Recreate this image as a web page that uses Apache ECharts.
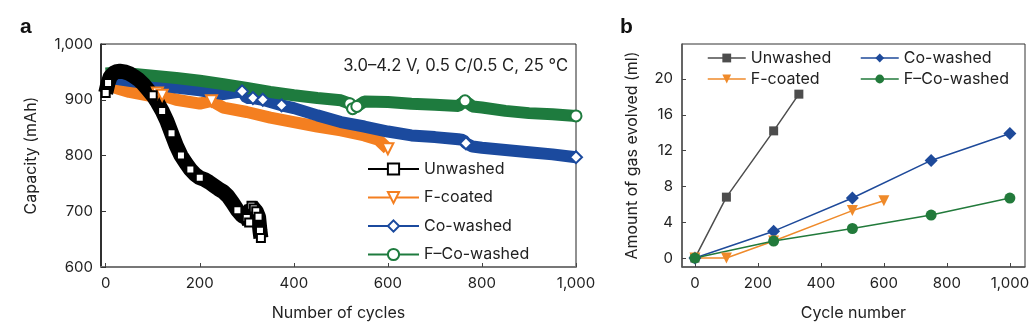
<!DOCTYPE html>
<html>
<head>
<meta charset="utf-8">
<script src="https://cdn.jsdelivr.net/npm/echarts/dist/echarts.min.js"></script>
<style>
html,body{margin:0;padding:0;background:#fff;}
#chart{width:1036px;height:335px;}
</style>
</head>
<body>
<div id="chart"></div>
<script>
// ---------- Panel a: capacity vs cycles ----------
const unwashedCycles = [0,5,10,20,30,40,50,60,70,80,90,100,110,120,130,140,150,160,170,180,190,200,210,220,230,240,250,260,270,280,290,300,305,310,315,320,325,328,330];
const unwashedCap    = [912,930,942,950,951,950,947,942,936,928,918,908,895,880,862,840,818,800,787,775,766,760,757,752,746,740,735,727,715,702,692,688,680,710,705,700,690,665,652];
const unwashedMarkerCycles = [0,5,100,120,140,160,180,200,280,300,305,310,315,320,325,328,330];

const fCoatedCycles = [0,10,25,50,75,100,110,120,150,200,225,250,300,350,400,450,500,550,580,600];
const fCoatedCap    = [932,928,920,914,910,906,912,908,900,893,898,886,878,868,860,852,845,836,828,812];
const fCoatedMarkerCycles = [110,120,225,600];

const coWashedCycles = [0,25,50,100,150,200,250,290,300,313,334,350,374,400,450,500,550,600,650,700,750,760,766,780,800,850,900,950,1000];
const coWashedCap    = [940,937,934,928,922,917,910,915,903,903,900,896,890,885,872,860,852,843,836,833,829,828,822,816,814,810,806,802,797];
const coWashedMarkerCycles = [290,313,334,374,766,1000];

const fCoWashedCycles = [0,25,50,100,150,200,250,300,350,400,450,500,519,525,534,550,600,650,700,750,764,780,800,850,900,950,1000];
const fCoWashedCap    = [947,949,947,943,939,934,928,921,914,908,903,899,893,884,888,897,896,893,891,889,898,888,886,880,876,874,871];
const fCoWashedMarkerCycles = [519,525,534,764,1000];

const xTicksA = [0,200,400,600,800,1000];

// ---------- Panel b: gas evolution ----------
const gasUnwashedCycles = [0,100,250,330];
const gasUnwashed       = [0,6.8,14.2,18.3];
const gasFCoatedCycles  = [0,100,250,500,600];
const gasFCoated        = [0,0,1.9,5.3,6.4];
const gasCoWashedCycles = [0,250,500,750,1000];
const gasCoWashed       = [0,3.0,6.7,10.9,13.9];
const gasFCoWashedCycles= [0,250,500,750,1000];
const gasFCoWashed      = [0,1.9,3.3,4.8,6.7];

const xTicksB = [0,200,400,600,800,1000];
const yTicksB = [0,4,8,12,16,20];

const seriesNames = ['Unwashed','F-coated','Co-washed','F\u2013Co-washed'];

// ---------- styling ----------
const FONT = 'Inter';
const TXT = '#222';
const C_A = {unw:'#000000', fc:'#F47F20', cw:'#1B4A9E', fcw:'#1E7B3E'};
const C_B = {unw:'#4d4d4d', fc:'#EF8A2A', cw:'#1E4A9A', fcw:'#227A3B'};

const pairs = (xs, ys) => xs.map((x, i) => [x, ys[i]]);
const fmt = v => Number(v).toLocaleString('en-US');
const markerSize = (cycles, size) => function (val) {
  return cycles.indexOf(val[0]) >= 0 ? size : 0;
};

const chart = echarts.init(document.getElementById('chart'), null, {renderer:'canvas'});

const option = {
  animation: false,
  backgroundColor: '#fff',
  textStyle: {fontFamily: FONT},
  grid: [
    {left:101, top:44, width:475, height:223, show:true, borderColor:'#222', borderWidth:1, backgroundColor:'transparent'},
    {left:682, top:44, width:343, height:223, show:true, borderColor:'#333', borderWidth:1, backgroundColor:'transparent'}
  ],
  xAxis: [
    {gridIndex:0, type:'value', min:-10, max:1000,
     name:'Number of cycles', nameLocation:'middle', nameGap:38,
     nameTextStyle:{fontSize:16, color:TXT, fontFamily:FONT},
     axisLine:{show:true, onZero:false, lineStyle:{color:'#777', width:2}},
     axisTick:{show:true, inside:true, length:4, customValues:xTicksA, lineStyle:{color:'#444'}},
     axisLabel:{customValues:xTicksA, formatter:fmt, fontSize:15, color:TXT, margin:9, fontFamily:FONT},
     splitLine:{show:false}},
    {gridIndex:1, type:'value', min:-41, max:1048,
     name:'Cycle number', nameLocation:'middle', nameGap:38,
     nameTextStyle:{fontSize:16, color:TXT, fontFamily:FONT},
     axisLine:{show:true, onZero:false, lineStyle:{color:'#555', width:1.5}},
     axisTick:{show:true, inside:true, length:4, customValues:xTicksB, lineStyle:{color:'#444'}},
     axisLabel:{customValues:xTicksB, formatter:fmt, fontSize:15, color:TXT, margin:9, fontFamily:FONT},
     splitLine:{show:false}}
  ],
  yAxis: [
    {gridIndex:0, type:'value', min:600, max:1000, interval:100,
     name:'Capacity (mAh)', nameLocation:'middle', nameGap:62, nameRotate:90,
     nameTextStyle:{fontSize:16, color:TXT, fontFamily:FONT},
     axisLine:{show:true, onZero:false, lineStyle:{color:'#111', width:1.5}},
     axisTick:{show:true, inside:true, length:5, lineStyle:{color:'#333'}},
     axisLabel:{formatter:fmt, fontSize:15, color:TXT, margin:8, fontFamily:FONT},
     splitLine:{show:false}},
    {gridIndex:1, type:'value', min:-1, max:23.9,
     name:'Amount of gas evolved (ml)', nameLocation:'middle', nameGap:42, nameRotate:90,
     nameTextStyle:{fontSize:16, color:TXT, fontFamily:FONT},
     axisLine:{show:true, onZero:false, lineStyle:{color:'#555', width:1.5}},
     axisTick:{show:true, inside:true, length:4, customValues:yTicksB, lineStyle:{color:'#444'}},
     axisLabel:{customValues:yTicksB, fontSize:15, color:TXT, margin:9, fontFamily:FONT},
     splitLine:{show:false}}
  ],
  legend: [
    {left:367, top:161, orient:'vertical', padding:0, itemWidth:51, itemHeight:14, itemGap:12.5,
     data: seriesNames,
     textStyle:{fontSize:16, color:TXT, lineHeight:16, fontFamily:FONT},
     lineStyle:{width:2}, itemStyle:{borderWidth:1.5}},
    {left:707, top:50, orient:'vertical', padding:0, itemWidth:38, itemHeight:11, itemGap:5,
     data:['b:Unwashed','b:F-coated'], formatter: n => n.replace('b:',''),
     textStyle:{fontSize:16, color:TXT, lineHeight:16, fontFamily:FONT},
     lineStyle:{width:1.5}},
    {left:860, top:50, orient:'vertical', padding:0, itemWidth:38, itemHeight:11, itemGap:5,
     data:['b:Co-washed','b:F\u2013Co-washed'], formatter: n => n.replace('b:',''),
     textStyle:{fontSize:16, color:TXT, lineHeight:16, fontFamily:FONT},
     lineStyle:{width:1.5}}
  ],
  graphic: [
    {type:'text', x:20, y:27, style:{text:'a', fontSize:21, fontWeight:'bold', fill:'#111', fontFamily:'Liberation Sans', textVerticalAlign:'middle'}},
    {type:'text', x:620, y:27, style:{text:'b', fontSize:21, fontWeight:'bold', fill:'#111', fontFamily:'Liberation Sans', textVerticalAlign:'middle'}},
    {type:'text', x:568, y:66, style:{text:'3.0\u20134.2 V, 0.5 C/0.5 C, 25 \u00b0C', fontSize:16.6, fill:TXT, fontFamily:FONT, textAlign:'right', textVerticalAlign:'middle'}}
  ],
  series: [
    // panel a
    {name:'F-coated', type:'line', xAxisIndex:0, yAxisIndex:0, data:pairs(fCoatedCycles, fCoatedCap),
     color:C_A.fc, lineStyle:{width:12, color:C_A.fc}, symbol:'emptyTriangle', symbolRotate:180,
     symbolSize:markerSize(fCoatedMarkerCycles, 11), showSymbol:true, itemStyle:{color:C_A.fc, borderWidth:1.5}},
    {name:'Co-washed', type:'line', xAxisIndex:0, yAxisIndex:0, data:pairs(coWashedCycles, coWashedCap),
     color:C_A.cw, lineStyle:{width:12, color:C_A.cw}, symbol:'emptyDiamond',
     symbolSize:markerSize(coWashedMarkerCycles, 12), showSymbol:true, itemStyle:{color:C_A.cw, borderWidth:1.5}},
    {name:'F\u2013Co-washed', type:'line', xAxisIndex:0, yAxisIndex:0, data:pairs(fCoWashedCycles, fCoWashedCap),
     color:C_A.fcw, lineStyle:{width:12, color:C_A.fcw}, symbol:'emptyCircle',
     symbolSize:markerSize(fCoWashedMarkerCycles, 11), showSymbol:true, itemStyle:{color:C_A.fcw, borderWidth:1.5}},
    {name:'Unwashed', type:'line', xAxisIndex:0, yAxisIndex:0, data:pairs(unwashedCycles, unwashedCap),
     color:C_A.unw, lineStyle:{width:15, color:C_A.unw}, symbol:'emptyRect',
     symbolSize:markerSize(unwashedMarkerCycles, 8), showSymbol:true,
     itemStyle:{color:C_A.unw, borderWidth:1.5}},
    // panel b
    {name:'b:Unwashed', type:'line', xAxisIndex:1, yAxisIndex:1, data:pairs(gasUnwashedCycles, gasUnwashed),
     color:C_B.unw, lineStyle:{width:1.5, color:C_B.unw}, symbol:'rect', symbolSize:9, itemStyle:{color:C_B.unw}},
    {name:'b:Co-washed', type:'line', xAxisIndex:1, yAxisIndex:1, data:pairs(gasCoWashedCycles, gasCoWashed),
     color:C_B.cw, lineStyle:{width:1.5, color:C_B.cw}, symbol:'diamond', symbolSize:13, itemStyle:{color:C_B.cw}},
    {name:'b:F-coated', type:'line', xAxisIndex:1, yAxisIndex:1, data:pairs(gasFCoatedCycles, gasFCoated),
     color:C_B.fc, lineStyle:{width:1.5, color:C_B.fc}, symbol:'triangle', symbolRotate:180, symbolSize:11, itemStyle:{color:C_B.fc}},
    {name:'b:F\u2013Co-washed', type:'line', xAxisIndex:1, yAxisIndex:1, data:pairs(gasFCoWashedCycles, gasFCoWashed),
     color:C_B.fcw, lineStyle:{width:1.5, color:C_B.fcw}, symbol:'circle', symbolSize:11, itemStyle:{color:C_B.fcw}}
  ]
};
chart.setOption(option);
</script>
</body>
</html>
